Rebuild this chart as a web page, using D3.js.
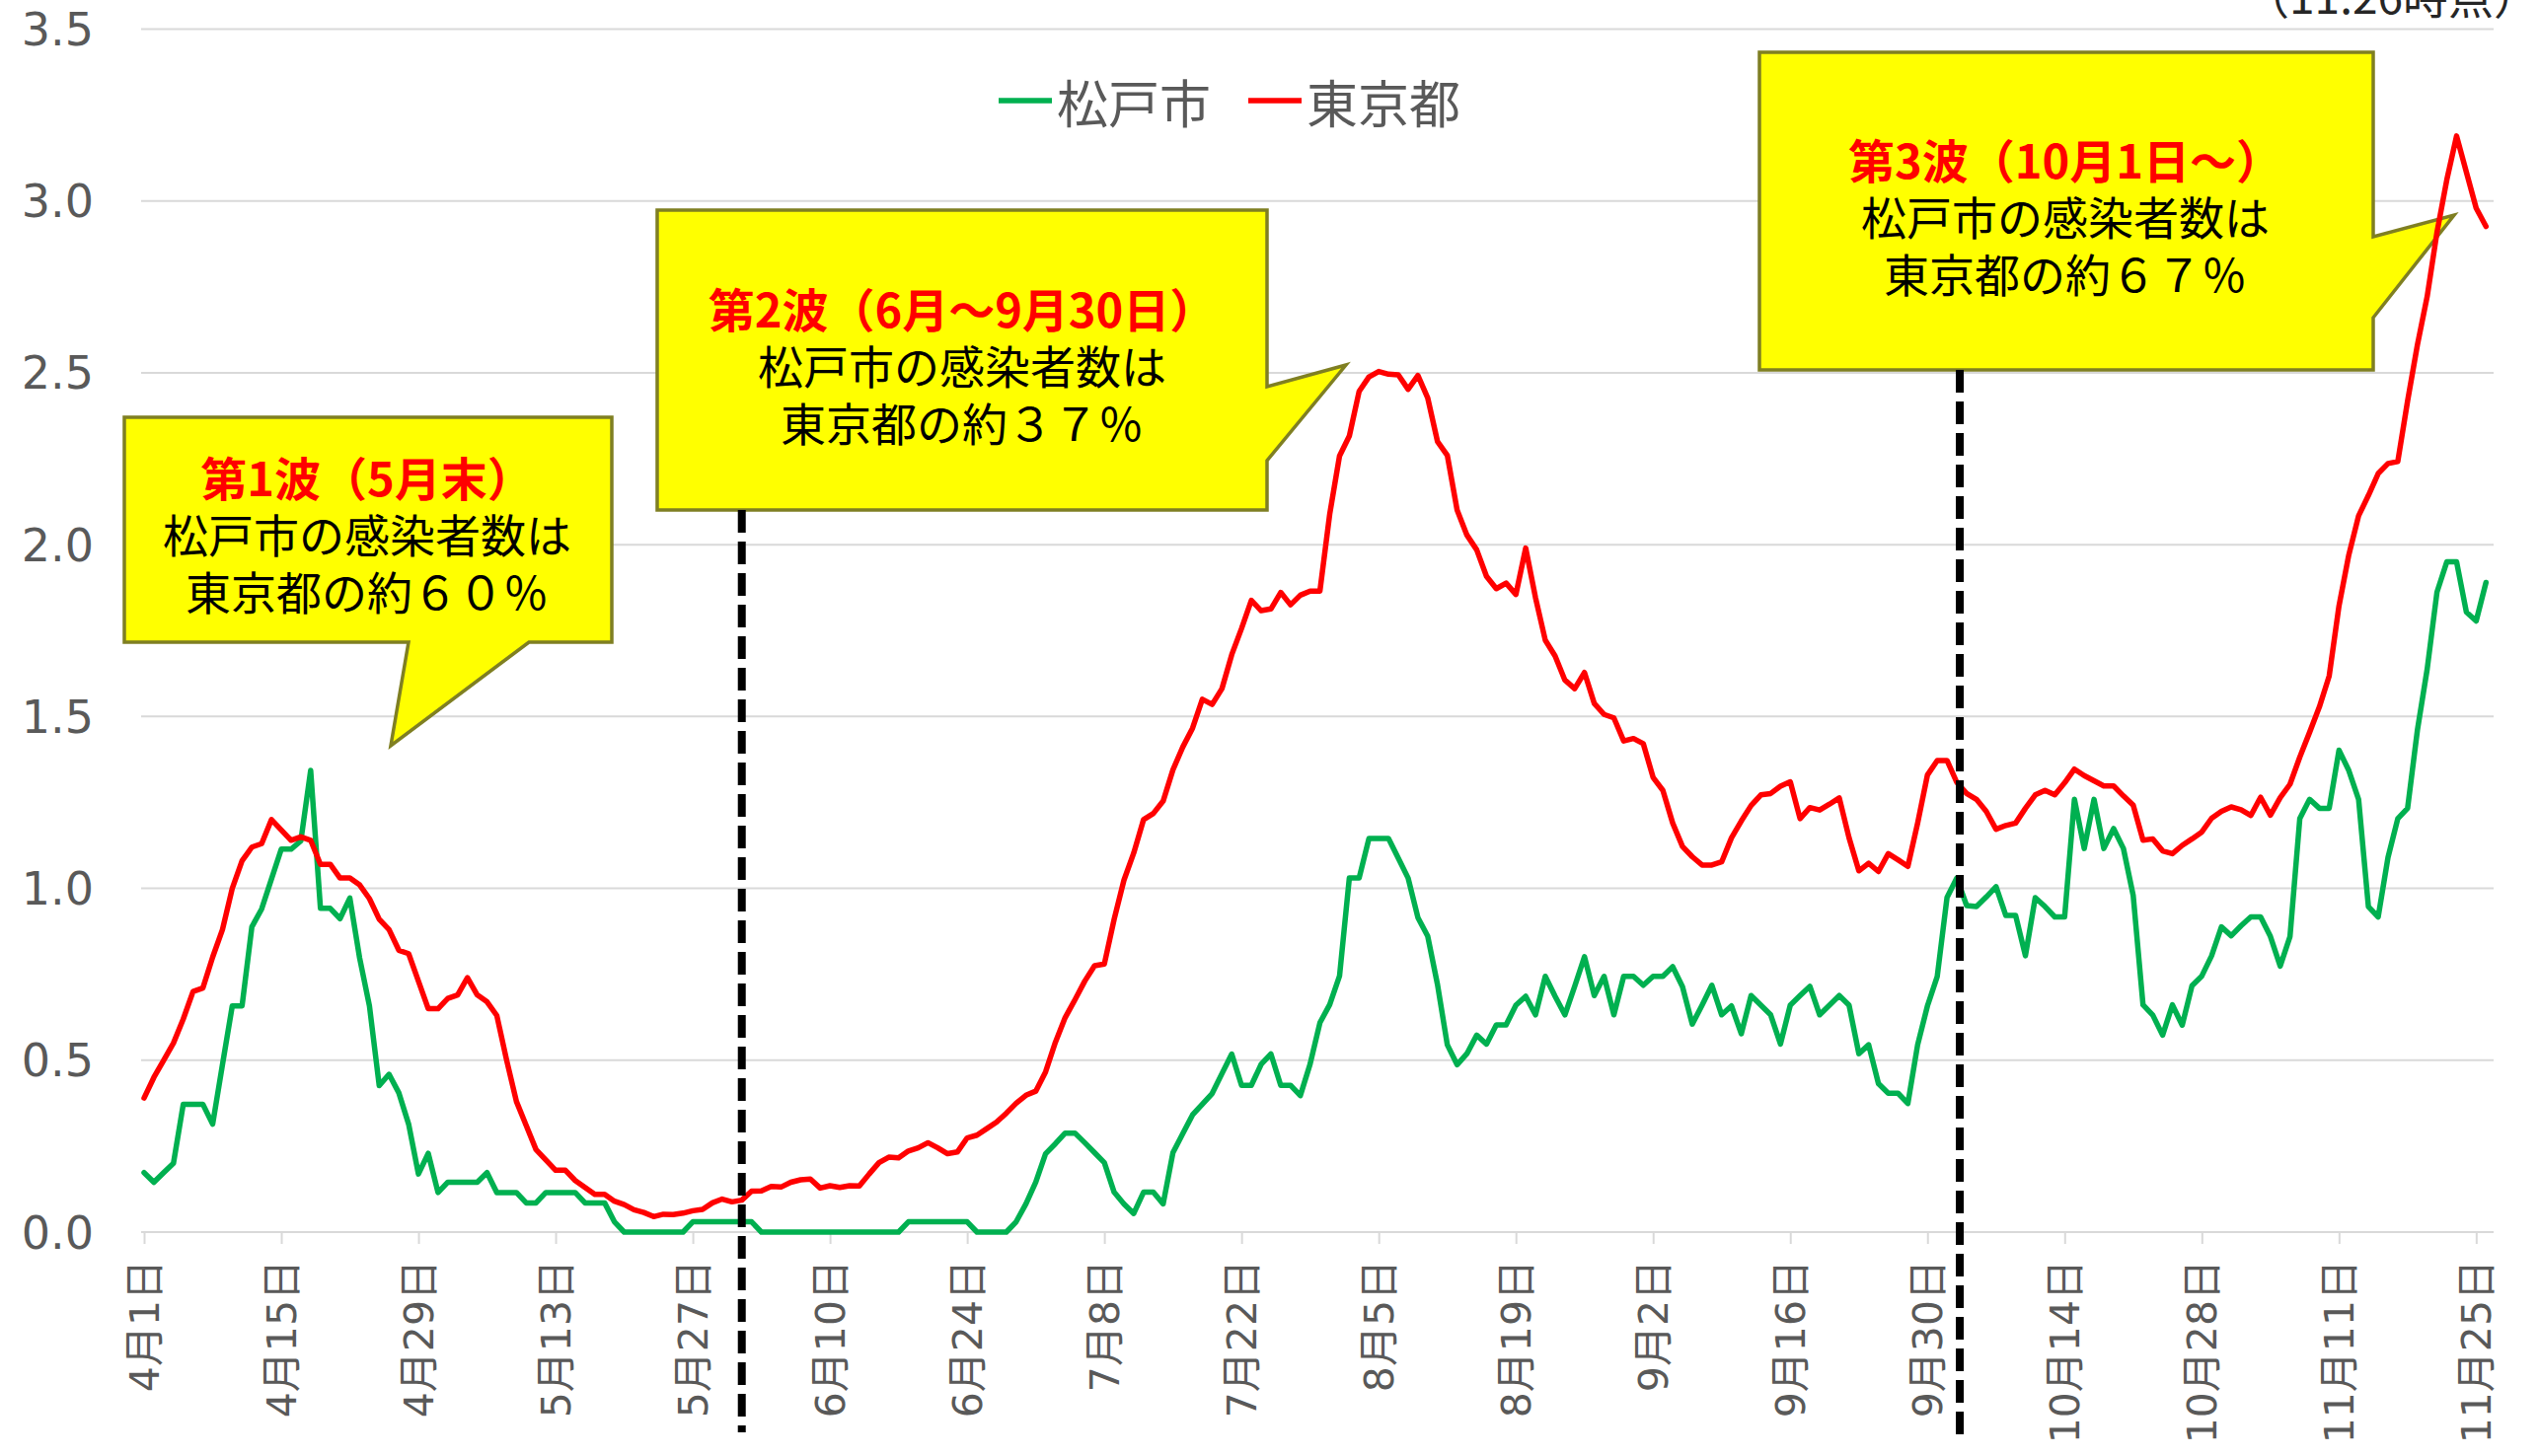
<!DOCTYPE html>
<html>
<head>
<meta charset="utf-8">
<script src="https://cdn.jsdelivr.net/npm/d3@7"></script>
<style>
  html, body { margin: 0; padding: 0; background: #ffffff; }
  svg { display: block; }
</style>
</head>
<body>
<svg id="chart" width="2573" height="1476"></svg>
<script>
// ---------------- DATA ----------------
const tickEvery = 14;
const tickLabels = ["4月1日","4月15日","4月29日","5月13日","5月27日","6月10日","6月24日",
  "7月8日","7月22日","8月5日","8月19日","9月2日","9月16日","9月30日","10月14日",
  "10月28日","11月11日","11月25日"];
const seriesNames = ["松戸市", "東京都"];
const yTicks = [0, 0.5, 1.0, 1.5, 2.0, 2.5, 3.0, 3.5];

const matsudo = [
  0.173,0.145,0.173,0.200,0.372,0.372,0.372,0.314,0.487,0.658,
  0.658,0.888,0.940,1.027,1.114,1.114,1.138,1.343,0.942,0.942,
  0.912,0.972,0.797,0.658,0.426,0.459,0.405,0.314,0.169,0.229,
  0.115,0.145,0.145,0.145,0.145,0.173,0.115,0.115,0.115,0.085,
  0.085,0.115,0.115,0.115,0.115,0.085,0.085,0.085,0.030,0,
  0,0,0,0,0,0,0.030,0.030,0.030,0.030,
  0.030,0.030,0.030,0,0,0,0,0,0,0,
  0,0,0,0,0,0,0,0,0.030,0.030,
  0.030,0.030,0.030,0.030,0.030,0,0,0,0,0.030,
  0.082,0.145,0.228,0.257,0.288,0.288,0.260,0.231,0.202,0.116,
  0.082,0.054,0.116,0.116,0.082,0.231,0.286,0.341,0.372,0.403,
  0.461,0.518,0.427,0.427,0.488,0.518,0.427,0.427,0.397,0.489,
  0.609,0.662,0.745,1.030,1.030,1.145,1.145,1.145,1.088,1.030,
  0.915,0.861,0.720,0.545,0.487,0.519,0.573,0.547,0.603,0.603,
  0.660,0.686,0.632,0.744,0.686,0.632,0.715,0.801,0.688,0.744,
  0.632,0.744,0.744,0.718,0.744,0.744,0.772,0.714,0.605,0.660,
  0.718,0.632,0.658,0.577,0.688,0.660,0.632,0.547,0.660,0.688,
  0.715,0.632,0.660,0.688,0.660,0.519,0.545,0.432,0.404,0.404,
  0.374,0.545,0.658,0.744,0.974,1.030,0.950,0.947,0.975,1.005,
  0.921,0.921,0.804,0.973,0.947,0.917,0.917,1.259,1.116,1.259,
  1.116,1.174,1.116,0.979,0.661,0.631,0.573,0.661,0.602,0.717,
  0.745,0.804,0.888,0.862,0.891,0.917,0.917,0.860,0.774,0.860,
  1.203,1.259,1.233,1.233,1.402,1.343,1.259,0.947,0.917,1.090,
  1.203,1.233,1.460,1.638,1.862,1.950,1.950,1.804,1.778,1.890
];

const tokyo = [
  0.39,0.45,0.50,0.55,0.62,0.70,0.71,0.80,0.88,1.00,
  1.08,1.12,1.13,1.20,1.17,1.14,1.15,1.14,1.07,1.07,
  1.03,1.03,1.01,0.97,0.91,0.88,0.82,0.81,0.73,0.65,
  0.65,0.68,0.69,0.74,0.69,0.67,0.63,0.50,0.38,0.31,
  0.24,0.21,0.18,0.18,0.15,0.13,0.11,0.11,0.09,0.08,
  0.065,0.057,0.045,0.052,0.051,0.055,0.062,0.066,0.085,0.096,
  0.088,0.093,0.119,0.120,0.133,0.131,0.145,0.152,0.154,0.128,
  0.135,0.130,0.135,0.134,0.169,0.202,0.218,0.216,0.236,0.245,
  0.260,0.245,0.228,0.233,0.274,0.282,0.301,0.320,0.346,0.375,
  0.398,0.410,0.466,0.552,0.624,0.676,0.73,0.775,0.78,0.91,
  1.024,1.103,1.200,1.218,1.254,1.345,1.411,1.466,1.550,1.535,
  1.581,1.680,1.756,1.838,1.808,1.813,1.861,1.825,1.853,1.865,
  1.865,2.089,2.258,2.316,2.446,2.488,2.504,2.496,2.494,2.452,
  2.492,2.427,2.300,2.260,2.101,2.028,1.985,1.908,1.872,1.888,
  1.855,1.99,1.846,1.722,1.676,1.606,1.581,1.628,1.538,1.506,
  1.496,1.429,1.436,1.421,1.323,1.285,1.190,1.122,1.092,1.068,
  1.068,1.077,1.147,1.196,1.241,1.272,1.276,1.297,1.310,1.203,
  1.235,1.228,1.245,1.263,1.147,1.051,1.073,1.049,1.101,1.083,
  1.064,1.190,1.330,1.372,1.372,1.308,1.276,1.259,1.224,1.172,
  1.183,1.190,1.233,1.272,1.285,1.272,1.307,1.347,1.328,1.313,
  1.298,1.298,1.269,1.242,1.140,1.144,1.109,1.101,1.125,1.144,
  1.164,1.204,1.224,1.237,1.229,1.212,1.265,1.213,1.264,1.303,
  1.382,1.454,1.528,1.618,1.822,1.97,2.084,2.143,2.207,2.236,
  2.242,2.418,2.581,2.722,2.909,3.061,3.189,3.084,2.979,2.926
];

// wave boundaries (day index from 4月1日)
const waveBoundaries = [61, 185.3];
const waveTitles = ["第1波（5月末）", "第2波（6月～9月30日）", "第3波（10月1日～）"];
const waveLine2 = ["松戸市の感染者数は", "松戸市の感染者数は", "松戸市の感染者数は"];
const waveLine3 = ["東京都の約６０％", "東京都の約３７％", "東京都の約６７％"];
const asOfText = "（11.26時点）";

// ---------------- LAYOUT ----------------
const W = 2573, H = 1476;
const plot = { left: 143, right: 2527, top: 29.5, bottom: 1249 };
const colors = { matsudo: "#00b050", tokyo: "#ff0000", grid: "#d9d9d9", text: "#595959" };

const svg = d3.select("#chart");
svg.append("rect").attr("width", W).attr("height", H).attr("fill", "#fff");

const n = tokyo.length;
const x = d3.scaleLinear().domain([0, n - 1]).range([146, 146 + (n - 1) * 9.93]);
const y = d3.scaleLinear().domain([0, 3.5]).range([plot.bottom, plot.top]);

// gridlines
svg.append("g").selectAll("line").data(yTicks.filter(v => v > 0)).join("line")
  .attr("x1", plot.left).attr("x2", plot.right)
  .attr("y1", d => y(d)).attr("y2", d => y(d))
  .attr("stroke", colors.grid).attr("stroke-width", 2);

// y labels
svg.append("g").selectAll("text").data(yTicks).join("text")
  .attr("x", 95).attr("y", d => y(d)).attr("dy", "0.36em")
  .attr("text-anchor", "end")
  .attr("font-family", "'DejaVu Sans', sans-serif")
  .attr("font-size", 46).attr("fill", colors.text)
  .text(d => d3.format(".1f")(d));

// x axis
const tickIdx = tickLabels.map((_, i) => i * tickEvery);
const xAxis = d3.axisBottom(x).tickValues(tickIdx).tickSize(12)
  .tickFormat((d, i) => tickLabels[i]);
const gx = svg.append("g").attr("transform", `translate(0,${plot.bottom})`).call(xAxis);
gx.select(".domain").remove();
gx.selectAll(".tick line").attr("stroke", colors.grid).attr("stroke-width", 2);
gx.selectAll(".tick text")
  .attr("transform", "translate(0,28) rotate(-90)")
  .attr("x", 0).attr("y", 0).attr("dy", null)
  .attr("text-anchor", "end")
  .attr("dominant-baseline", "central")
  .attr("font-family", "'DejaVu Sans', 'Noto Sans CJK JP', sans-serif")
  .attr("font-size", 41).attr("fill", colors.text);
svg.append("line").attr("x1", plot.left).attr("x2", plot.right)
  .attr("y1", plot.bottom).attr("y2", plot.bottom)
  .attr("stroke", colors.grid).attr("stroke-width", 2);

// callouts (shapes)
const calloutShapes = [
  { box: [126, 423, 620, 651], text: [372, 482], pointer: "bottom", base: [536, 414], tip: [396, 756] },
  { box: [666, 213, 1284, 517], text: [975, 311], pointer: "right", base: [392, 467], tip: [1364, 370] },
  { box: [1783, 53, 2405, 375], text: [2093, 160], pointer: "right", base: [240, 322], tip: [2487, 218] }
];
const cg = svg.append("g");
calloutShapes.forEach((c, i) => {
  const [x0, y0, x1, y1] = c.box;
  const p = d3.path();
  p.moveTo(x0, y0); p.lineTo(x1, y0);
  if (c.pointer === "right") {
    p.lineTo(x1, c.base[0]); p.lineTo(c.tip[0], c.tip[1]); p.lineTo(x1, c.base[1]);
    p.lineTo(x1, y1); p.lineTo(x0, y1);
  } else {
    p.lineTo(x1, y1); p.lineTo(c.base[0], y1); p.lineTo(c.tip[0], c.tip[1]);
    p.lineTo(c.base[1], y1); p.lineTo(x0, y1);
  }
  p.closePath();
  cg.append("path").attr("d", p.toString())
    .attr("fill", "#ffff00").attr("stroke", "#7f7f22").attr("stroke-width", 3.5)
    .attr("stroke-linejoin", "miter");
  const lines = [waveTitles[i], waveLine2[i], waveLine3[i]];
  const t = cg.append("text")
    .attr("text-anchor", "middle").attr("dominant-baseline", "central")
    .attr("font-family", "'Noto Sans CJK JP', sans-serif");
  lines.forEach((s, j) => {
    t.append("tspan")
      .attr("x", c.text[0]).attr("y", c.text[1] + j * 58)
      .attr("font-size", j === 0 ? 47 : 46)
      .attr("font-weight", j === 0 ? 700 : 400)
      .attr("fill", j === 0 ? "#ff0000" : "#000000")
      .text(s);
  });
});

// series lines
const line = d3.line().x((d, i) => x(i)).y(d => y(d));
svg.append("path").datum(matsudo).attr("d", line)
  .attr("fill", "none").attr("stroke", colors.matsudo).attr("stroke-width", 5.5)
  .attr("stroke-linejoin", "round").attr("stroke-linecap", "round");
svg.append("path").datum(tokyo).attr("d", line)
  .attr("fill", "none").attr("stroke", colors.tokyo).attr("stroke-width", 5.5)
  .attr("stroke-linejoin", "round").attr("stroke-linecap", "round");

// wave boundary dashed lines
const dashTop = [517, 375], dashBottom = [1452, 1460];
waveBoundaries.forEach((b, i) => {
  svg.append("line").attr("x1", x(b)).attr("x2", x(b))
    .attr("y1", dashTop[i]).attr("y2", dashBottom[i])
    .attr("stroke", "#000").attr("stroke-width", 8)
    .attr("stroke-dasharray", "23,9");
});

// legend
const legend = [
  { name: seriesNames[0], color: colors.matsudo, x: 1012 },
  { name: seriesNames[1], color: colors.tokyo, x: 1265 }
];
const lg = svg.append("g");
legend.forEach(l => {
  lg.append("line").attr("x1", l.x).attr("x2", l.x + 54).attr("y1", 102).attr("y2", 102)
    .attr("stroke", l.color).attr("stroke-width", 5.5);
  lg.append("text").attr("x", l.x + 59).attr("y", 102)
    .attr("dominant-baseline", "central")
    .attr("font-family", "'Noto Sans CJK JP', sans-serif")
    .attr("font-size", 52).attr("fill", colors.text).text(l.name);
});

// as-of note (top right, partly clipped as in the original)
svg.append("text").attr("x", 2573).attr("y", 14).attr("text-anchor", "end")
  .attr("font-family", "'Noto Sans CJK JP', sans-serif")
  .attr("font-size", 46).attr("fill", "#262626").text(asOfText);
</script>
</body>
</html>
